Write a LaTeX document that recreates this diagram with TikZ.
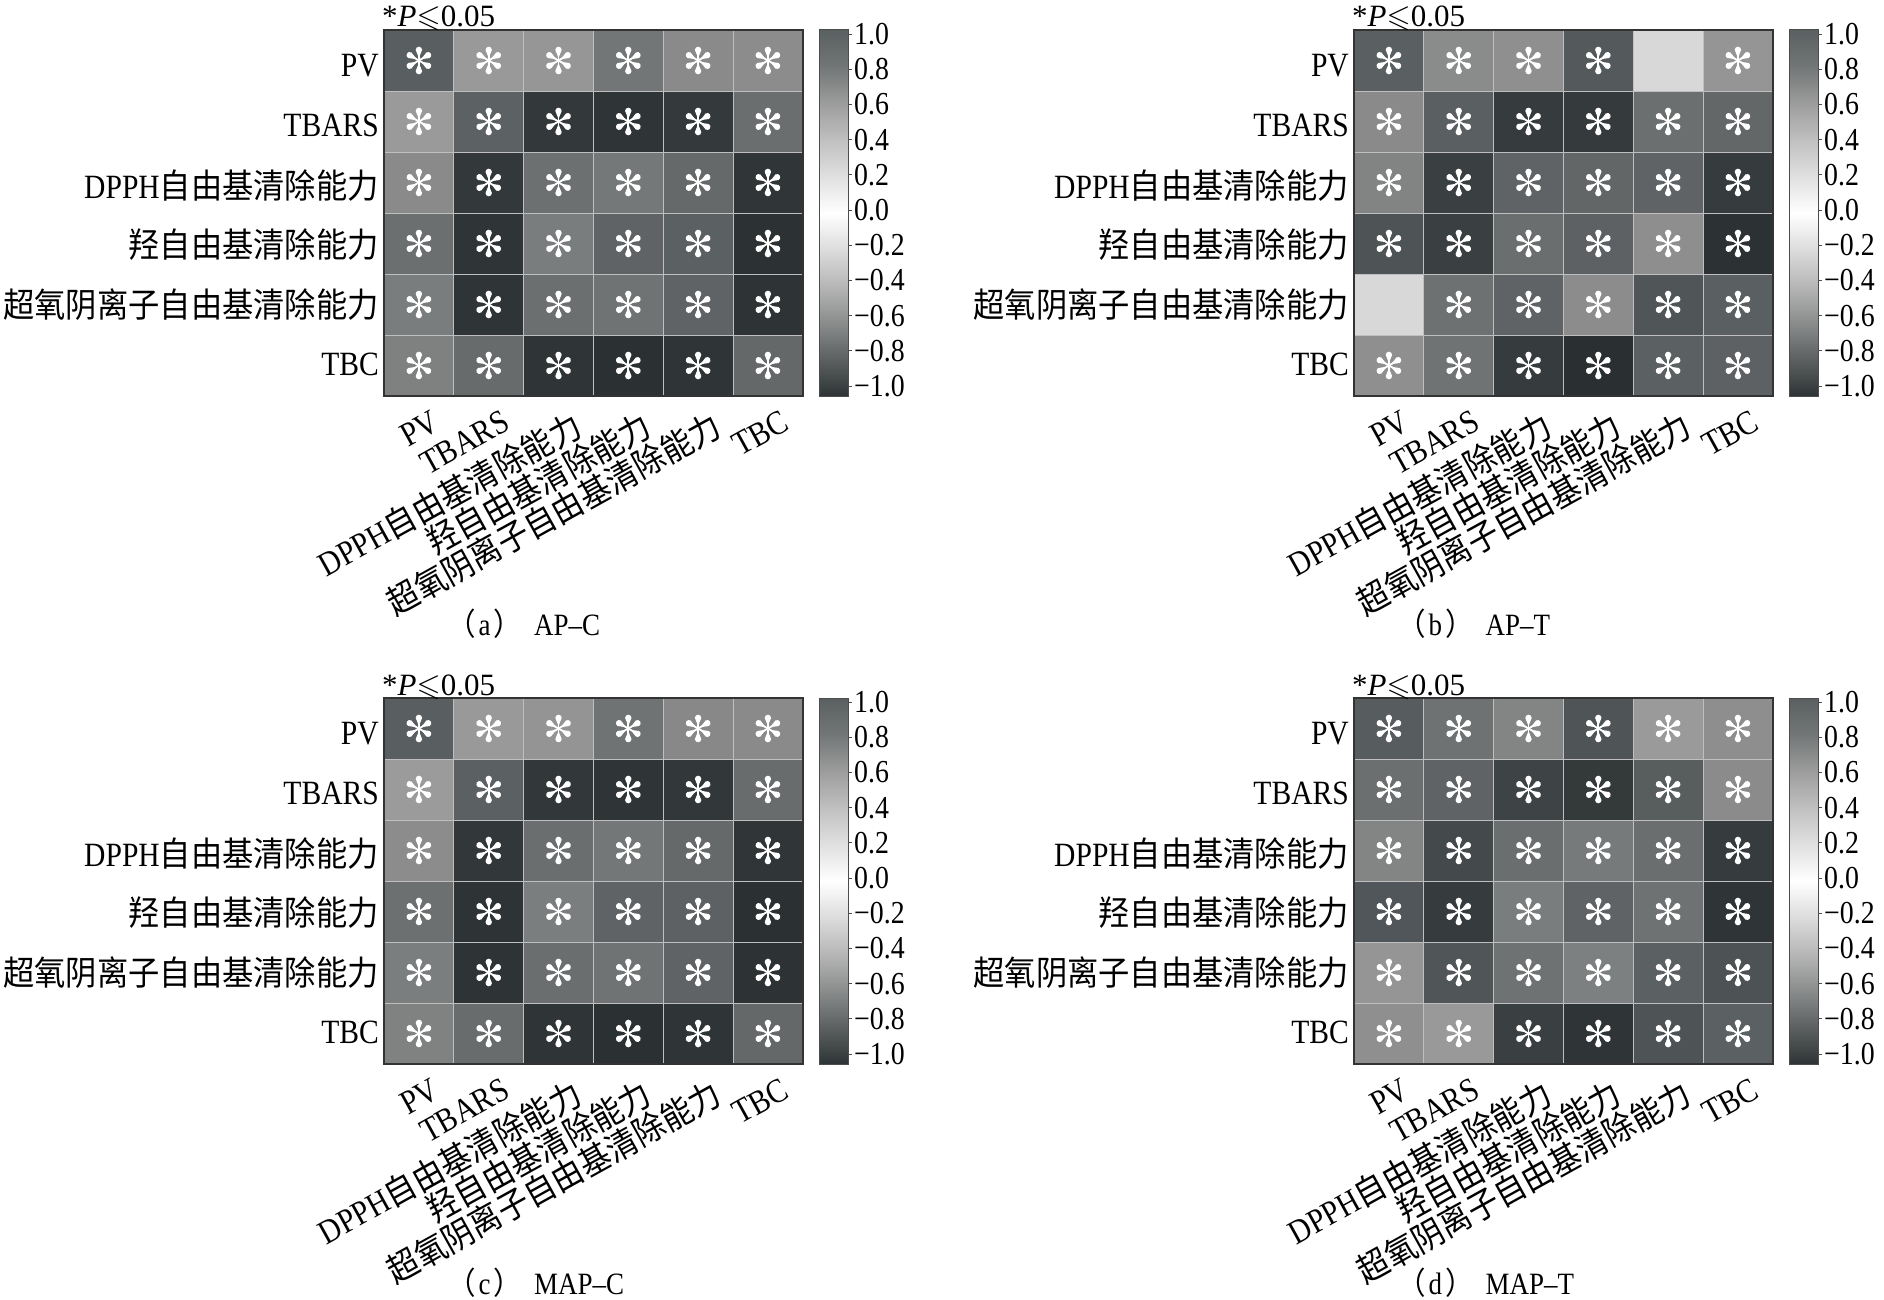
\documentclass[tikz,border=0pt]{standalone}
\usepackage{amssymb}
\usepackage{fontspec}
\setmainfont[FakeStretch=0.87]{Liberation Serif}
\newfontfamily\titlefont{Liberation Serif}
\newfontfamily\cjk[FakeStretch=0.92]{Noto Sans CJK SC}
\usetikzlibrary{calc}

\pgfdeclareverticalshading{cbar}{100bp}{%
 rgb(0bp)=(0.180,0.204,0.208);
 rgb(25bp)=(0.180,0.204,0.208);
 rgb(30bp)=(0.361,0.376,0.380);
 rgb(35bp)=(0.541,0.549,0.549);
 rgb(40bp)=(0.714,0.714,0.714);
 rgb(45bp)=(0.863,0.863,0.863);
 rgb(50bp)=(1,1,1);
 rgb(55bp)=(0.878,0.878,0.878);
 rgb(60bp)=(0.753,0.753,0.753);
 rgb(65bp)=(0.612,0.612,0.612);
 rgb(70bp)=(0.447,0.463,0.463);
 rgb(75bp)=(0.353,0.373,0.380);
 rgb(100bp)=(0.353,0.373,0.380)}

\tikzset{
  cellline/.style={draw=black!25, line width=0.8pt},
  gridframe/.style={draw=black!80, line width=1.4pt},
  barframe/.style={draw=black!70, line width=1pt},
  rowlab/.style={anchor=east, inner sep=0pt, font=\fontsize{34}{36}\selectfont},
  collab/.style={anchor=north east, inner sep=0pt, rotate=29, font=\fontsize{34}{36}\selectfont},
  ticklab/.style={anchor=west, inner sep=0pt, font=\fontsize{32}{34}\selectfont},
  titlelab/.style={anchor=base west, inner sep=0pt, font=\titlefont\fontsize{31}{33}\selectfont},
  caplab/.style={anchor=west, inner sep=0pt, font=\fontsize{31}{33}\selectfont},
  asterpic/.pic={
    \begin{scope}[x=1pt,y=1pt]
    \foreach \a in {90,30,-30,-90,-150,150}{
      \draw[white, line width=1.8pt, line cap=round] (0,0) -- (\a:9);
      \fill[white] (\a:2.5) -- ($(\a:10.6)+(\a-90:3.2)$)
        arc[start angle=\a-90, end angle=\a+90, radius=3.2] -- cycle;
    }
    \end{scope}
  }
}

% #1 x0, #2 y0, #3 row index, #4 list HEX/star
\newcommand\cellrow[4]{%
  \foreach \hx/\st [count=\ci from 0] in {#4} {
    \edef\tmpdef{\noexpand\definecolor{cellc}{HTML}{\hx}}\tmpdef
    \fill[cellc] ({#1+\ci*69.8},{#2+#3*61}) rectangle ++(69.8,61);
    \ifnum\st=1 \pic at ({#1+(\ci+0.5)*69.8},{#2+(#3+0.5)*61}) {asterpic};\fi
  }}

% #1 x0, #2 y0, #3 prefix
\newcommand\panelframe[3]{%
  \foreach \i in {1,...,5} {
    \draw[cellline] ({#1+\i*69.8},#2) -- ({#1+\i*69.8},{#2+366});
    \draw[cellline] (#1,{#2+\i*61}) -- ({#1+418.8},{#2+\i*61});
  }
  \draw[gridframe] (#1,#2) rectangle ({#1+418.8},{#2+366});
  \shade[shading=cbar] ({#1+435},#2) rectangle ({#1+464},{#2+366});
  \draw[barframe] ({#1+435},#2) rectangle ({#1+464},{#2+366});
  \foreach \v/\t [count=\k] in {1/1.0,0.8/0.8,0.6/0.6,0.4/0.4,0.2/0.2,0/0.0,-0.2/−0.2,-0.4/−0.4,-0.6/−0.6,-0.8/−0.8,-1/−1.0} {
    \draw[black!70, line width=0.8pt] ({#1+464},{#2+4+(1-\v)/2*352}) -- ++(4,0);
    \node[ticklab] (#3t\k) at ({#1+470},{#2+4+(1-\v)/2*352}) {\t};
  }
  \node[titlelab] (#3title) at ({#1-2},{#2-3}) {*\textit{P}$\mathord{\leqslant}$0.05};
  \node[rowlab] (#3r1) at ({#1-5},{#2+36}) {PV};
  \node[rowlab] (#3r2) at ({#1-5},{#2+95.5}) {TBARS};
  \node[rowlab] (#3r3) at ({#1-5},{#2+155.5}) {DPPH{\cjk 自由基清除能力}};
  \node[rowlab] (#3r4) at ({#1-5},{#2+215}) {{\cjk 羟自由基清除能力}};
  \node[rowlab] (#3r5) at ({#1-5},{#2+275}) {{\cjk 超氧阴离子自由基清除能力}};
  \node[rowlab] (#3r6) at ({#1-5},{#2+334}) {TBC};
  \node[collab] (#3c1) at ({#1+0.5*69.8+12},{#2+379}) {PV};
  \node[collab] (#3c2) at ({#1+1.5*69.8+12},{#2+379}) {TBARS};
  \node[collab] (#3c3) at ({#1+2.5*69.8+12},{#2+379}) {DPPH{\cjk 自由基清除能力}};
  \node[collab] (#3c4) at ({#1+3.5*69.8+12},{#2+379}) {{\cjk 羟自由基清除能力}};
  \node[collab] (#3c5) at ({#1+4.5*69.8+12},{#2+379}) {{\cjk 超氧阴离子自由基清除能力}};
  \node[collab] (#3c6) at ({#1+5.5*69.8+12},{#2+379}) {TBC};
}

\newcommand\capt[2]{{\cjk （}\hspace{3pt}#1\hspace{3pt}{\cjk ）}\hspace{12pt}#2}

\begin{document}
\begin{tikzpicture}[x=1pt,y=-1pt]
\useasboundingbox[fill=white] (0,0) rectangle (1884,1300);

% ---- panel (a)
\cellrow{384}{30}{0}{595F61/1,999999/1,969696/1,727676/1,8A8A8A/1,8C8C8C/1}
\cellrow{384}{30}{1}{9A9A9A/1,5C6163/1,33393A/1,2F3536/1,343A3B/1,6A6E6E/1}
\cellrow{384}{30}{2}{8A8A8A/1,33393A/1,6D7070/1,757878/1,656969/1,303637/1}
\cellrow{384}{30}{3}{6C6F70/1,2F3536/1,7A7D7D/1,5F6365/1,5B6062/1,2C3233/1}
\cellrow{384}{30}{4}{7A7D7D/1,2F3536/1,6C6F70/1,6F7373/1,5F6365/1,2E3435/1}
\cellrow{384}{30}{5}{7F8181/1,676B6B/1,2F3536/1,2B3132/1,2F3536/1,646868/1}
\panelframe{384}{30}{a}
\node[caplab] (capa) at (447,624) {\capt{a}{AP–C}};

% ---- panel (b)
\cellrow{1354}{30}{0}{5A6062/1,8A8B8B/1,8F8F8F/1,545A5C/1,D8D8D8/0,959595/1}
\cellrow{1354}{30}{1}{8A8A8A/1,5A5F61/1,363C3D/1,353B3C/1,6B6F6F/1,636768/1}
\cellrow{1354}{30}{2}{828484/1,3A4041/1,5F6365/1,626667/1,5F6365/1,363C3D/1}
\cellrow{1354}{30}{3}{4E5456/1,3A4041/1,6A6E6E/1,5D6163/1,8E8E8E/1,2C3233/1}
\cellrow{1354}{30}{4}{D8D8D8/0,6D7171/1,5F6365/1,8C8C8C/1,505658/1,5A5F61/1}
\cellrow{1354}{30}{5}{8F8F8F/1,6F7373/1,363C3D/1,2A3031/1,5B6062/1,5D6163/1}
\panelframe{1354}{30}{b}
\node[caplab] (capb) at (1397,624) {\capt{b}{AP–T}};

% ---- panel (c)
\cellrow{384}{698}{0}{595F61/1,999999/1,949494/1,6F7373/1,888888/1,8A8A8A/1}
\cellrow{384}{698}{1}{9B9B9B/1,5B6062/1,323839/1,2F3536/1,323839/1,686C6C/1}
\cellrow{384}{698}{2}{8C8C8C/1,323839/1,6A6E6E/1,737777/1,656969/1,303637/1}
\cellrow{384}{698}{3}{6C7070/1,2E3435/1,7B7E7E/1,5F6365/1,5D6163/1,2B3132/1}
\cellrow{384}{698}{4}{7B7E7E/1,2E3435/1,6A6E6E/1,6F7373/1,5F6365/1,2D3334/1}
\cellrow{384}{698}{5}{808282/1,686C6C/1,2F3536/1,2B3132/1,2F3536/1,646868/1}
\panelframe{384}{698}{c}
\node[caplab] (capc) at (447,1283) {\capt{c}{MAP–C}};

% ---- panel (d)
\cellrow{1354}{698}{0}{575C5E/1,6E7272/1,838585/1,4F5557/1,9A9A9A/1,8E8E8E/1}
\cellrow{1354}{698}{1}{6B6F6F/1,5F6365/1,3E4445/1,34393A/1,585D5E/1,8B8B8B/1}
\cellrow{1354}{698}{2}{838585/1,444A4B/1,6A6E6E/1,777A7A/1,6A6E6E/1,363C3D/1}
\cellrow{1354}{698}{3}{50565A/1,363C3D/1,7A7D7D/1,5F6365/1,6F7272/1,2F3536/1}
\cellrow{1354}{698}{4}{959595/1,505658/1,6E7272/1,7D8080/1,5B6062/1,4D5355/1}
\cellrow{1354}{698}{5}{8F8F8F/1,999999/1,3A4041/1,2F3536/1,4E5456/1,5B6062/1}
\panelframe{1354}{698}{d}
\node[caplab] (capd) at (1397,1283) {\capt{d}{MAP–T}};
\end{tikzpicture}
\end{document}
